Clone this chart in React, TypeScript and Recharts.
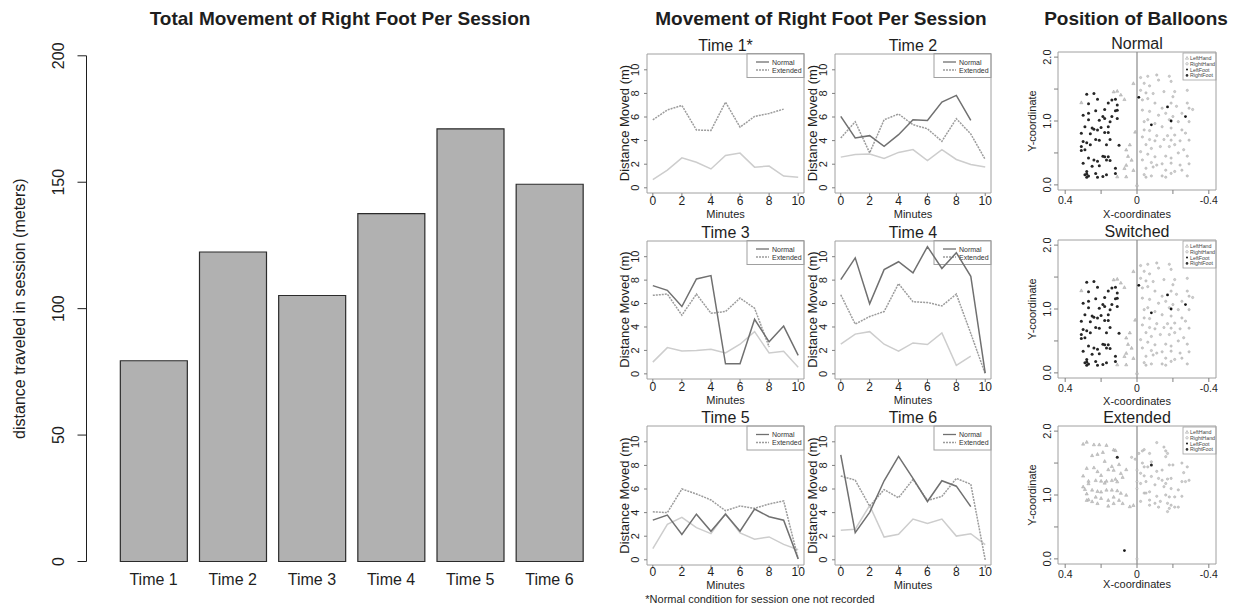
import React from 'react';
import {
  BarChart,
  Bar,
  LineChart,
  Line,
  ScatterChart,
  Scatter,
  XAxis,
  YAxis,
  ReferenceArea,
  ReferenceLine,
} from 'recharts';

const FONT = '"Liberation Sans", Arial, Helvetica, sans-serif';
const INK = '#1e1e1e';
const BOX = '#a0a0a0';

// ---- total movement bar chart ----
const sessions = ['Time 1', 'Time 2', 'Time 3', 'Time 4', 'Time 5', 'Time 6'];
const totalMeters = [79.4, 122.4, 105.2, 137.6, 171.1, 149.2];
const meterTicks = [0, 50, 100, 150, 200];

// ---- per-minute movement ----
const N = null;
const minutes = [0, 1, 2, 3, 4, 5, 6, 7, 8, 9, 10];
const minuteTicks = [0, 2, 4, 6, 8, 10];
const distanceTicks = [0, 2, 4, 6, 8, 10];
const timeTitles = ['Time 1*', 'Time 2', 'Time 3', 'Time 4', 'Time 5', 'Time 6'];

const normalT1 = [N, N, N, N, N, N, N, N, N, N, N];
const extendedT1 = [5.76, 6.6, 6.98, 4.9, 4.86, 7.26, 5.14, 6.05, 6.3, 6.67, N];
const otherT1 = [0.7, 1.5, 2.54, 2.17, 1.6, 2.74, 2.94, 1.75, 1.84, 1.0, 0.9];

const normalT2 = [6.06, 4.23, 4.42, 3.52, 4.5, 5.77, 5.71, 7.27, 7.83, 5.72, N];
const extendedT2 = [4.23, 5.6, 2.96, 5.77, 6.25, 5.35, 5.0, 3.94, 5.86, 4.56, 2.4];
const otherT2 = [2.6, 2.82, 2.87, 2.48, 3.0, 3.24, 2.31, 3.24, 2.4, 1.97, 1.77];

const normalT3 = [7.53, 7.13, 5.75, 8.1, 8.39, 0.86, 0.86, 4.66, 2.73, 4.08, 1.58];
const extendedT3 = [6.7, 6.81, 5.0, 6.81, 5.17, 5.32, 6.47, 5.6, 2.3, N, N];
const otherT3 = [1.0, 2.24, 1.95, 2.0, 2.1, 1.78, 2.53, 3.6, 1.78, 1.92, 0.57];

const normalT4 = [8.05, 9.9, 5.98, 8.9, 9.57, 8.62, 10.86, 9.0, 10.34, 8.33, 0.06];
const extendedT4 = [6.75, 4.25, 4.89, 5.32, 7.7, 6.15, 6.09, 5.8, 6.81, 3.45, 0];
const otherT4 = [2.53, 3.39, 3.6, 2.53, 1.93, 2.64, 2.5, 3.5, 0.72, 1.52, N];

const normalT5 = [3.36, 3.79, 2.14, 3.87, 2.42, 3.87, 2.42, 4.3, 3.65, 3.36, 0.08];
const extendedT5 = [4.07, 4.0, 6.0, 5.58, 5.07, 4.16, 4.56, 4.36, 4.73, 4.99, 0.08];
const otherT5 = [0.94, 3.0, 3.59, 2.73, 2.22, 3.93, 2.28, 1.74, 1.94, 1.31, 0.85];

const normalT6 = [8.9, 2.3, 4.02, 6.7, 8.76, 6.9, 4.94, 6.7, 6.24, 4.51, N];
const extendedT6 = [7.1, 6.75, 4.54, 5.95, 5.26, 6.81, 5.03, 5.37, 6.9, 6.41, 0];
const otherT6 = [2.5, 2.59, 4.6, 1.93, 2.16, 3.45, 3.07, 3.45, 2.01, 2.21, 1.29];

// ---- balloon positions [x, y] ----
const coordXTicks = [0.4, 0.2, 0, -0.2, -0.4];
const coordYTicks = [0, 0.5, 1, 1.5, 2];
const balloonTitles = ['Normal', 'Switched', 'Extended'];
const limbNames = ['LeftHand', 'RightHand', 'LeftFoot', 'RightFoot'];

const leftHandNormal = [
  [0.11, 1.47], [0.07, 1.34], [0.31, 1.29], [0.02, 1.59], [0.01, 0.83], [0.04, 0.63],
  [0.06, 0.55], [0.05, 0.45], [0.03, 0.39], [0.06, 0.31], [0.07, 0.26], [0.02, 0.23],
  [0.11, 0.13], [0.06, 0.13], [0.13, 1.46], [0.09, 1.41], [0, 0],
];
const rightHandNormal = [
  [-0.02, 1.68], [-0.06, 1.7], [-0.11, 1.72], [-0.18, 1.7], [-0.19, 1.62], [-0.12, 1.64],
  [-0.04, 1.59], [-0.07, 1.55], [-0.02, 1.48], [-0.05, 1.44], [-0.09, 1.43], [-0.15, 1.46],
  [-0.21, 1.46], [-0.28, 1.48], [-0.2, 1.38], [-0.19, 1.28], [-0.22, 1.23], [-0.29, 1.2],
  [-0.31, 1.18], [-0.28, 1.28], [-0.03, 1.33], [-0.06, 1.35], [-0.1, 1.28], [-0.14, 1.2],
  [-0.03, 1.17], [-0.07, 1.15], [-0.12, 1.09], [-0.16, 1.12], [-0.25, 1.12], [-0.2, 1.07],
  [-0.18, 1.02], [-0.23, 0.99], [-0.29, 0.99], [-0.04, 0.99], [-0.06, 1.02], [-0.1, 0.96],
  [-0.14, 0.91], [-0.19, 0.89], [-0.25, 0.86], [-0.04, 0.86], [-0.07, 0.85], [-0.11, 0.77],
  [-0.17, 0.77], [-0.21, 0.78], [-0.27, 0.81], [-0.03, 0.75], [-0.07, 0.71], [-0.1, 0.69],
  [-0.15, 0.71], [-0.19, 0.7], [-0.24, 0.69], [-0.29, 0.7], [-0.05, 0.63], [-0.08, 0.57],
  [-0.13, 0.6], [-0.18, 0.6], [-0.21, 0.63], [-0.26, 0.55], [-0.02, 0.52], [-0.06, 0.48],
  [-0.1, 0.44], [-0.16, 0.45], [-0.19, 0.42], [-0.23, 0.5], [-0.28, 0.45], [-0.03, 0.39],
  [-0.08, 0.35], [-0.11, 0.31], [-0.14, 0.33], [-0.19, 0.34], [-0.24, 0.31], [-0.29, 0.33],
  [-0.05, 0.26], [-0.09, 0.28], [-0.16, 0.23], [-0.21, 0.21], [-0.25, 0.23], [-0.04, 0.16],
  [-0.08, 0.14], [-0.14, 0.14], [-0.16, 0.12], [-0.19, 0.18], [-0.28, 0.14], [-0.05, 0.12],
];
const leftFootNormal = [[-0.01, 1.37], [-0.17, 1.22], [-0.19, 1.0], [-0.08, 0.94], [-0.27, 1.07]];
const rightFootNormal = [
  [0.28, 1.42], [0.24, 1.43], [0.22, 1.34], [0.27, 1.27], [0.16, 1.28], [0.14, 1.33],
  [0.12, 1.34], [0.11, 1.25], [0.18, 1.18], [0.23, 1.16], [0.27, 1.12], [0.3, 1.09],
  [0.19, 1.07], [0.14, 1.07], [0.12, 1.16], [0.11, 1.17], [0.27, 1.02], [0.21, 1.01],
  [0.18, 1.04], [0.15, 0.99], [0.11, 1.04], [0.29, 0.91], [0.25, 0.89], [0.24, 0.87],
  [0.22, 0.86], [0.2, 0.9], [0.16, 0.91], [0.18, 0.82], [0.16, 0.82], [0.31, 0.81],
  [0.26, 0.8], [0.23, 0.71], [0.21, 0.7], [0.15, 0.71], [0.3, 0.68], [0.28, 0.66],
  [0.31, 0.6], [0.26, 0.63], [0.17, 0.63], [0.1, 0.62], [0.29, 0.55], [0.31, 0.54],
  [0.19, 0.45], [0.18, 0.44], [0.16, 0.44], [0.27, 0.42], [0.24, 0.39], [0.22, 0.37],
  [0.17, 0.39], [0.15, 0.38], [0.3, 0.34], [0.25, 0.29], [0.21, 0.3], [0.12, 0.26],
  [0.28, 0.21], [0.28, 0.17], [0.29, 0.16], [0.27, 0.14], [0.23, 0.18], [0.22, 0.12],
  [0.19, 0.13], [0.17, 0.16], [0.12, 0.18], [0.28, 0.12],
];

const leftHandExtended = [
  [0.3, 1.8], [0.28, 1.83], [0.24, 1.79], [0.21, 1.79], [0.17, 1.78], [0.13, 1.71],
  [0.12, 1.7], [0.19, 1.67], [0.22, 1.64], [0.25, 1.62], [0.18, 1.53], [0.1, 1.48],
  [0.14, 1.45], [0.16, 1.4], [0.13, 1.39], [0.09, 1.34], [0.06, 1.4], [0.08, 1.28],
  [0.11, 1.21], [0.12, 1.25], [0.14, 1.23], [0.17, 1.22], [0.18, 1.19], [0.2, 1.22],
  [0.23, 1.23], [0.27, 1.22], [0.3, 1.3], [0.28, 1.42], [0.24, 1.43], [0.22, 1.37],
  [0.2, 1.31], [0.27, 1.18], [0.3, 1.13], [0.29, 1.09], [0.25, 1.08], [0.22, 1.06],
  [0.2, 1.05], [0.17, 1.08], [0.14, 1.08], [0.11, 1.07], [0.09, 1.03], [0.06, 1.0],
  [0.13, 0.97], [0.1, 0.92], [0.16, 0.92], [0.2, 0.95], [0.23, 0.97], [0.27, 0.93],
  [0.28, 0.92], [0.25, 0.9], [0.22, 0.87], [0.16, 0.83], [0.13, 0.87], [0.04, 0.82],
  [0.02, 0.84], [0.08, 0.87], [0.28, 1.02],
];
const rightHandExtended = [
  [0.03, 1.59], [0.01, 1.56], [-0.01, 1.65], [-0.03, 1.69], [-0.04, 1.71], [-0.11, 1.82],
  [-0.15, 1.75], [-0.16, 1.69], [-0.17, 1.65], [-0.16, 1.6], [-0.07, 1.65], [-0.03, 1.5],
  [-0.08, 1.52], [-0.04, 1.44], [-0.06, 1.44], [-0.11, 1.37], [-0.14, 1.39], [-0.18, 1.47],
  [-0.2, 1.47], [-0.25, 1.5], [-0.28, 1.44], [-0.26, 1.35], [-0.29, 1.23], [-0.27, 1.21],
  [-0.25, 1.21], [-0.19, 1.26], [-0.17, 1.25], [-0.16, 1.18], [-0.14, 1.23], [-0.12, 1.26],
  [-0.08, 1.29], [-0.04, 1.3], [-0.02, 1.34], [-0.02, 1.18], [-0.05, 1.21], [-0.1, 1.16],
  [-0.15, 1.13], [-0.19, 1.1], [-0.23, 1.08], [-0.07, 1.05], [-0.04, 1.03], [-0.05, 1.03],
  [-0.11, 0.98], [-0.16, 1.0], [-0.18, 0.97], [-0.21, 0.97], [-0.25, 0.98], [-0.02, 0.9],
  [-0.07, 0.92], [-0.1, 0.87], [-0.13, 0.9], [-0.17, 0.87], [-0.19, 0.84], [-0.21, 0.81],
  [-0.23, 0.81], [-0.07, 0.84], [-0.12, 0.81], [-0.17, 0.74], [-0.18, 0.79], [0, 1.21],
  [0, 1.1], [0, 1.39], [0, 0],
];
const leftFootExtended = [[0.07, 0.13]];
const rightFootExtended = [[0.11, 1.59], [-0.08, 1.47]];

// ---- layout ----
const PAD_L = 40;
const PAD_T = 2;
const PAD_R = 2;
const PAD_B = 24;

const lineBoxes = [
  { left: 647, top: 53.5, w: 157, h: 139 },
  { left: 835, top: 53.5, w: 156, h: 139 },
  { left: 647, top: 240.5, w: 157, h: 138 },
  { left: 835, top: 240.5, w: 156, h: 138 },
  { left: 647, top: 426, w: 157, h: 139 },
  { left: 835, top: 426, w: 156, h: 139 },
];
const tickLabelGap = [5, 5, 5, 5, 4, 4];
const minutesLabelGap = [21.5, 21.5, 21.5, 21.5, 19.5, 19.5];

const scatterBoxes = [
  { left: 1058, top: 52, w: 158, h: 138 },
  { left: 1058, top: 240, w: 158, h: 138 },
  { left: 1058, top: 426, w: 158, h: 138 },
];
const scatterTitleY = [43, 231.5, 417];
const scatterXLabelY = [213.5, 400.5, 584];

type Box = { left: number; top: number; w: number; h: number };

const xTick = (gap: number, fs: number, fmt?: (v: number) => string) => (p: any) => (
  <text
    x={p.x}
    y={p.y + gap}
    textAnchor="middle"
    dominantBaseline="central"
    fontSize={fs}
    fontFamily={FONT}
    fill={INK}
  >
    {fmt ? fmt(p.payload.value) : p.payload.value}
  </text>
);

const yTick = (gap: number, fs: number, fmt?: (v: number) => string) => (p: any) => (
  <text
    transform={`translate(${p.x - gap},${p.y}) rotate(-90)`}
    textAnchor="middle"
    dominantBaseline="central"
    fontSize={fs}
    fontFamily={FONT}
    fill={INK}
  >
    {fmt ? fmt(p.payload.value) : p.payload.value}
  </text>
);

function TotalBars() {
  const data = sessions.map((s, i) => ({ session: s, meters: totalMeters[i] }));
  return (
    <div style={{ position: 'absolute', left: 0, top: 0 }}>
      <BarChart
        width={600}
        height={605}
        data={data}
        margin={{ top: 55.8, right: 11, bottom: 13.5, left: 0 }}
        barCategoryGap="8%"
      >
        <XAxis
          dataKey="session"
          axisLine={false}
          tickLine={false}
          tickSize={0}
          tickMargin={0}
          height={30}
          padding={{ left: 27.5, right: 0 }}
          interval={0}
          tick={xTick(17.5, 16)}
        />
        <YAxis
          type="number"
          domain={[0, 200]}
          ticks={meterTicks}
          width={86.5}
          interval={0}
          tickSize={9}
          tickMargin={0}
          axisLine={{ stroke: INK }}
          tickLine={{ stroke: INK }}
          tick={yTick(19.5, 16)}
        />
        <Bar dataKey="meters" fill="#b1b1b1" stroke="#2b2b2b" strokeWidth={1.2} isAnimationActive={false} />
      </BarChart>
    </div>
  );
}

function MinutePanel({ box, normal, extended, other, labelGap }: { box: Box; normal: any[]; extended: any[]; other: any[]; labelGap: number }) {
  const rows = minutes.map((m, i) => ({ minute: m, normal: normal[i], extended: extended[i], other: other[i] }));
  return (
    <div style={{ position: 'absolute', left: box.left - PAD_L, top: box.top - PAD_T }}>
      <LineChart
        width={box.w + PAD_L + PAD_R}
        height={box.h + PAD_T + PAD_B}
        data={rows}
        margin={{ top: PAD_T, right: PAD_R, bottom: 0, left: 0 }}
      >
        <XAxis
          type="number"
          dataKey="minute"
          domain={[-0.4, 10.4]}
          allowDataOverflow
          ticks={minuteTicks}
          interval={0}
          height={PAD_B}
          axisLine={false}
          tickSize={3}
          tickMargin={0}
          tickLine={{ stroke: '#808080' }}
          tick={xTick(labelGap, 12)}
        />
        <YAxis
          type="number"
          domain={[-0.44, 11.34]}
          allowDataOverflow
          ticks={distanceTicks}
          interval={0}
          width={PAD_L}
          axisLine={false}
          tickSize={3}
          tickMargin={0}
          tickLine={{ stroke: '#808080' }}
          tick={yTick(8.7, 11)}
        />
        <ReferenceArea x1={-0.4} x2={10.4} y1={-0.44} y2={11.34} fill="none" stroke={BOX} strokeWidth={1} />
        <Line dataKey="other" stroke="#cdcdcd" strokeWidth={1.5} dot={false} isAnimationActive={false} />
        <Line
          dataKey="extended"
          stroke="#9c9c9c"
          strokeWidth={1.5}
          strokeDasharray="2 1"
          dot={false}
          isAnimationActive={false}
        />
        <Line dataKey="normal" stroke="#707070" strokeWidth={1.5} dot={false} isAnimationActive={false} />
      </LineChart>
    </div>
  );
}

const triangle = (color: string) => (p: any) => {
  const s = 1.6;
  return (
    <polygon
      points={`${p.cx},${p.cy - s} ${p.cx - s},${p.cy + s * 0.8} ${p.cx + s},${p.cy + s * 0.8}`}
      fill="#c8c8c8"
      stroke={color}
      strokeWidth={0.5}
    />
  );
};
const dot = (fill: string, r: number, stroke = 'none') => (p: any) => (
  <circle cx={p.cx} cy={p.cy} r={r} fill={fill} stroke={stroke} strokeWidth={0.5} />
);
const toXY = (pts: number[][]) => pts.map(([x, y]) => ({ x, y }));

function BalloonPanel({ box, leftHand, rightHand, leftFoot, rightFoot }: any) {
  return (
    <div style={{ position: 'absolute', left: box.left - PAD_L, top: box.top - PAD_T }}>
      <ScatterChart
        width={box.w + PAD_L + PAD_R}
        height={box.h + PAD_T + PAD_B}
        margin={{ top: PAD_T, right: PAD_R, bottom: 0, left: 0 }}
      >
        <XAxis
          type="number"
          dataKey="x"
          domain={[-0.44, 0.44]}
          allowDataOverflow
          reversed
          ticks={coordXTicks}
          interval={0}
          height={PAD_B}
          axisLine={false}
          tickSize={4}
          tickMargin={0}
          tickLine={{ stroke: '#808080' }}
          tick={xTick(5.5, 10.5, (v) => (Math.abs(v) === 0.2 ? '' : String(v)))}
        />
        <YAxis
          type="number"
          dataKey="y"
          domain={[-0.08, 2.08]}
          allowDataOverflow
          ticks={coordYTicks}
          interval={0}
          width={PAD_L}
          axisLine={false}
          tickSize={4}
          tickMargin={0}
          tickLine={{ stroke: '#808080' }}
          tick={yTick(7.3, 11, (v) => (Number.isInteger(v) ? v.toFixed(1) : ''))}
        />
        <ReferenceArea x1={-0.44} x2={0.44} y1={-0.08} y2={2.08} fill="none" stroke={BOX} strokeWidth={1} />
        <ReferenceLine x={0} stroke="#8a8a8a" strokeWidth={1.2} />
        <Scatter data={toXY(leftHand)} shape={triangle('#a5a5a5')} isAnimationActive={false} />
        <Scatter data={toXY(rightHand)} shape={dot('#cfcfcf', 1.15, '#a5a5a5')} isAnimationActive={false} />
        <Scatter data={toXY(leftFoot)} shape={dot('#151515', 1.4)} isAnimationActive={false} />
        <Scatter data={toXY(rightFoot)} shape={dot('#262626', 1.5)} isAnimationActive={false} />
      </ScatterChart>
    </div>
  );
}

function MinuteLegend({ box }: { box: Box }) {
  const x = box.left + box.w - 57;
  const y = box.top;
  return (
    <g>
      <rect x={x} y={y} width={57} height={24} fill="#fff" stroke={BOX} strokeWidth={1} />
      <line x1={x + 9} x2={x + 22} y1={y + 8.5} y2={y + 8.5} stroke="#707070" strokeWidth={1.3} />
      <line x1={x + 9} x2={x + 22} y1={y + 16.5} y2={y + 16.5} stroke="#9c9c9c" strokeWidth={1.3} strokeDasharray="2 1" />
      <text x={x + 25} y={y + 8.5} fontSize={7} fontFamily={FONT} fill="#333" dominantBaseline="central">Normal</text>
      <text x={x + 25} y={y + 16.5} fontSize={7} fontFamily={FONT} fill="#333" dominantBaseline="central">Extended</text>
    </g>
  );
}

function BalloonLegend({ box }: { box: Box }) {
  const x = box.left + box.w - 33;
  const y = box.top + 1;
  const marks = [
    (cx: number, cy: number) => (
      <polygon points={`${cx},${cy - 1.5} ${cx - 1.5},${cy + 1.2} ${cx + 1.5},${cy + 1.2}`} fill="none" stroke="#888" strokeWidth={0.5} />
    ),
    (cx: number, cy: number) => <circle cx={cx} cy={cy} r={1.2} fill="none" stroke="#888" strokeWidth={0.5} />,
    (cx: number, cy: number) => <circle cx={cx} cy={cy} r={1} fill="#111" />,
    (cx: number, cy: number) => <circle cx={cx} cy={cy} r={1.3} fill="#333" />,
  ];
  return (
    <g>
      <rect x={x} y={y} width={33} height={27} fill="#fff" stroke={BOX} strokeWidth={0.8} />
      {limbNames.map((name, i) => (
        <g key={name}>
          {marks[i](x + 4, y + 5 + i * 5.8)}
          <text x={x + 7} y={y + 5 + i * 5.8} fontSize={5.3} fontFamily={FONT} fill="#444" dominantBaseline="central">
            {name}
          </text>
        </g>
      ))}
    </g>
  );
}

export default function App() {
  const minuteSeries = [
    [normalT1, extendedT1, otherT1],
    [normalT2, extendedT2, otherT2],
    [normalT3, extendedT3, otherT3],
    [normalT4, extendedT4, otherT4],
    [normalT5, extendedT5, otherT5],
    [normalT6, extendedT6, otherT6],
  ];
  const balloonSeries = [
    [leftHandNormal, rightHandNormal, leftFootNormal, rightFootNormal],
    [leftHandNormal, rightHandNormal, leftFootNormal, rightFootNormal],
    [leftHandExtended, rightHandExtended, leftFootExtended, rightFootExtended],
  ];
  const txt = { fontFamily: FONT, fill: INK } as const;

  return (
    <div style={{ position: 'absolute', left: 0, top: 0, width: 1237, height: 605, background: '#fff', overflow: 'hidden' }}>
      <svg width={1237} height={605} style={{ position: 'absolute', left: 0, top: 0 }}>
        {lineBoxes.map((b, i) => (
          <MinuteLegend key={i} box={b} />
        ))}
        {scatterBoxes.map((b, i) => (
          <BalloonLegend key={i} box={b} />
        ))}
      </svg>

      <TotalBars />
      {lineBoxes.map((b, i) => (
        <MinutePanel
          key={i}
          box={b}
          normal={minuteSeries[i][0]}
          extended={minuteSeries[i][1]}
          other={minuteSeries[i][2]}
          labelGap={tickLabelGap[i]}
        />
      ))}
      {scatterBoxes.map((b, i) => (
        <BalloonPanel
          key={i}
          box={b}
          leftHand={balloonSeries[i][0]}
          rightHand={balloonSeries[i][1]}
          leftFoot={balloonSeries[i][2]}
          rightFoot={balloonSeries[i][3]}
        />
      ))}

      <svg width={1237} height={605} style={{ position: 'absolute', left: 0, top: 0, pointerEvents: 'none' }}>
        <text x={340} y={18} textAnchor="middle" dominantBaseline="central" fontSize={19} fontWeight="bold" {...txt}>
          Total Movement of Right Foot Per Session
        </text>
        <text
          transform="translate(19,308.6) rotate(-90)"
          textAnchor="middle"
          dominantBaseline="central"
          fontSize={16}
          {...txt}
        >
          distance traveled in session (meters)
        </text>

        <text x={821} y={18} textAnchor="middle" dominantBaseline="central" fontSize={19} fontWeight="bold" {...txt}>
          Movement of Right Foot Per Session
        </text>
        {lineBoxes.map((b, i) => (
          <g key={i}>
            <text x={b.left + b.w / 2} y={b.top - 8.5} textAnchor="middle" dominantBaseline="central" fontSize={16} {...txt}>
              {timeTitles[i]}
            </text>
            <text
              x={b.left + b.w / 2}
              y={b.top + b.h + minutesLabelGap[i]}
              textAnchor="middle"
              dominantBaseline="central"
              fontSize={11}
              {...txt}
            >
              Minutes
            </text>
            <text
              transform={`translate(${b.left - 23},${b.top + b.h / 2}) rotate(-90)`}
              textAnchor="middle"
              dominantBaseline="central"
              fontSize={13}
              {...txt}
            >
              Distance Moved (m)
            </text>
          </g>
        ))}
        <text x={760} y={599} textAnchor="middle" dominantBaseline="central" fontSize={11} {...txt}>
          *Normal condition for session one not recorded
        </text>

        <text x={1136} y={18} textAnchor="middle" dominantBaseline="central" fontSize={19} fontWeight="bold" {...txt}>
          Position of Balloons
        </text>
        {scatterBoxes.map((b, i) => (
          <g key={i}>
            <text x={b.left + b.w / 2} y={scatterTitleY[i]} textAnchor="middle" dominantBaseline="central" fontSize={16} {...txt}>
              {balloonTitles[i]}
            </text>
            <text x={b.left + b.w / 2} y={scatterXLabelY[i]} textAnchor="middle" dominantBaseline="central" fontSize={11} {...txt}>
              X-coordinates
            </text>
            <text
              transform={`translate(1032,${b.top + b.h / 2}) rotate(-90)`}
              textAnchor="middle"
              dominantBaseline="central"
              fontSize={11}
              {...txt}
            >
              Y-coordinate
            </text>
          </g>
        ))}
      </svg>
    </div>
  );
}
